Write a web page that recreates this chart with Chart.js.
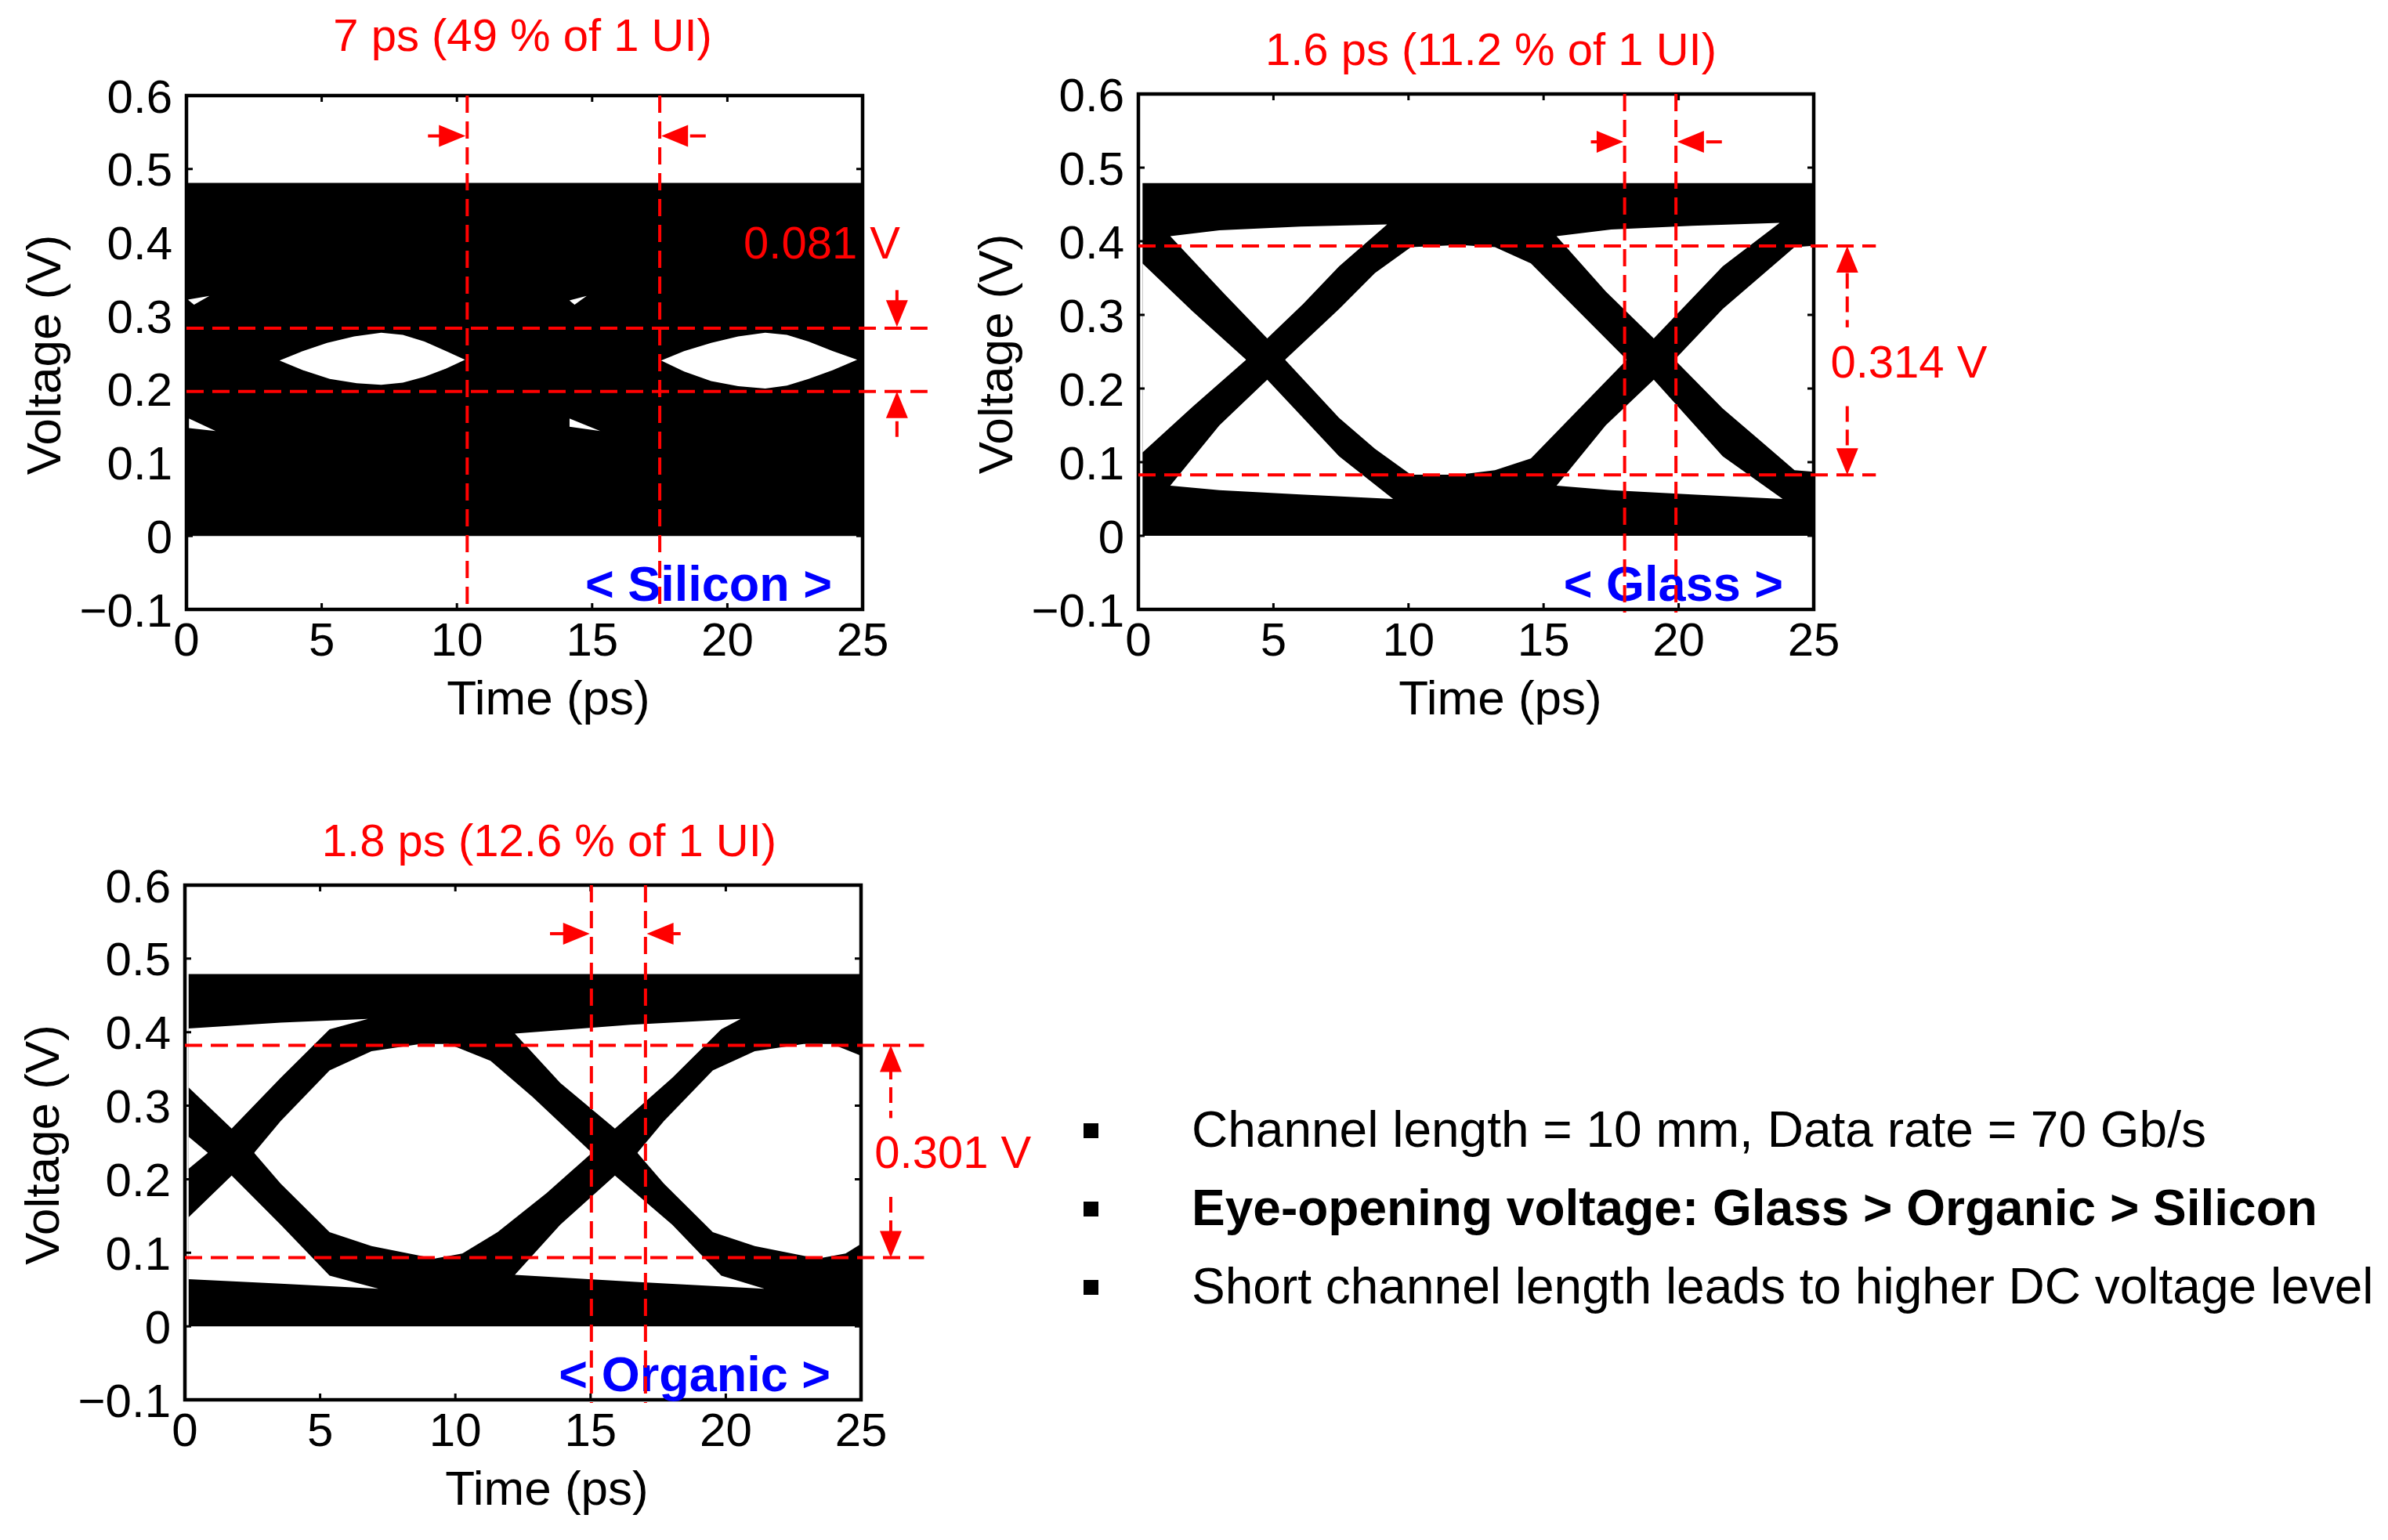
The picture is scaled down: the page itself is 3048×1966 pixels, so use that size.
<!DOCTYPE html>
<html><head><meta charset="utf-8">
<script src="https://cdn.jsdelivr.net/npm/chart.js@4.4.1/dist/chart.umd.min.js"></script>
<style>
html,body{margin:0;padding:0;background:#fff;width:3048px;height:1966px;overflow:hidden;position:relative}
canvas{position:absolute}
.note{position:absolute;font-family:"Liberation Sans",Arial,sans-serif;font-size:64px;line-height:64px;white-space:nowrap;color:#000}
.sq{position:absolute;width:19px;height:19px;background:#000}
</style></head>
<body>
<canvas id="cSi" width="1220" height="960" style="left:0px;top:0px"></canvas>
<canvas id="cGl" width="1400" height="960" style="left:1220px;top:0px"></canvas>
<canvas id="cOr" width="1400" height="966" style="left:0px;top:1000px"></canvas>
<script>
// ---------- tick labels ----------
const timeTickValues = [0, 5, 10, 15, 20, 25];
const timeTicks = ['0', '5', '10', '15', '20', '25'];
const voltTickValues = [-0.1, 0, 0.1, 0.2, 0.3, 0.4, 0.5, 0.6];
const voltTicks = ['\u22120.1', '0', '0.1', '0.2', '0.3', '0.4', '0.5', '0.6'];

// ---------- Silicon eye (time ps, voltage V) ----------
const siliconBand = [[0, 0.481], [25, 0.481]];
const siliconHoles = [
  {top: [[3.44,0.239],[4.3,0.252],[5.2,0.263],[6.2,0.272],[7.2,0.277],[8.0,0.274],[8.8,0.265],[9.6,0.252],[10.3,0.240]],
   bot: [[3.44,0.239],[4.3,0.226],[5.3,0.214],[6.3,0.208],[7.2,0.206],[8.0,0.209],[8.8,0.217],[9.6,0.228],[10.3,0.240]]},
  {top: [[17.55,0.239],[18.4,0.252],[19.4,0.263],[20.4,0.272],[21.4,0.277],[22.2,0.274],[23.0,0.265],[23.9,0.252],[24.8,0.240]],
   bot: [[17.55,0.239],[18.4,0.224],[19.4,0.211],[20.4,0.204],[21.4,0.201],[22.2,0.205],[23.0,0.214],[23.9,0.226],[24.8,0.240]]},
  {top: [[0.05,0.322],[0.85,0.327]], bot: [[0.05,0.322],[0.28,0.315],[0.85,0.327]]},
  {top: [[14.16,0.321],[14.8,0.327]], bot: [[14.16,0.321],[14.35,0.315],[14.8,0.327]]},
  {top: [[0.09,0.160],[1.08,0.143]], bot: [[0.09,0.147],[1.08,0.143]]},
  {top: [[14.16,0.160],[15.3,0.143]], bot: [[14.16,0.149],[15.3,0.143]]}
];
const siliconVLines = [10.38, 17.5];
const siliconHLines = [0.283, 0.197];
const siliconArrows = [[8.93,0.545,10.32,0.545],[19.2,0.545,17.56,0.545],[26.27,0.335,26.27,0.285],[26.27,0.135,26.27,0.197]];

// ---------- Glass eye ----------
const glassBand = [[0.15, 0.479], [25, 0.479]];
const glassHoles = [
  {top: [[1.18,0.407],[3.0,0.415],[6.0,0.420],[9.21,0.423]],
   bot: [[1.18,0.407],[3.2,0.328],[4.77,0.268],[6.1,0.315],[7.43,0.366],[9.21,0.423]]},
  {top: [[1.18,0.068],[3.0,0.150],[4.77,0.212],[7.43,0.108],[9.43,0.050]],
   bot: [[1.18,0.068],[3.0,0.062],[6.0,0.056],[9.43,0.050]]},
  {top: [[0.15,0.370],[2.0,0.305],[3.99,0.239]],
   bot: [[0.15,0.113],[2.0,0.175],[3.99,0.239]]},
  {top: [[5.43,0.239],[7.43,0.308],[8.76,0.357],[10.09,0.392],[11.87,0.395],[13.2,0.392],[14.53,0.370],[18.08,0.239]],
   bot: [[5.43,0.239],[7.43,0.160],[8.76,0.118],[10.09,0.083],[11.87,0.083],[13.2,0.089],[14.53,0.105],[18.08,0.239]]},
  {top: [[15.48,0.407],[17.5,0.416],[20.5,0.421],[23.74,0.425]],
   bot: [[15.48,0.407],[17.3,0.332],[19.08,0.268],[20.3,0.315],[21.63,0.366],[23.74,0.425]]},
  {top: [[15.48,0.068],[17.3,0.150],[19.08,0.212],[21.63,0.108],[23.85,0.050]],
   bot: [[15.48,0.068],[17.5,0.062],[20.5,0.056],[23.85,0.050]]},
  {top: [[19.85,0.239],[21.63,0.308],[22.96,0.350],[24.29,0.392],[25,0.394]],
   bot: [[19.85,0.239],[21.63,0.173],[22.96,0.131],[24.29,0.089],[25,0.087]]}
];
const glassVLines = [18.0, 19.9];
const glassHLines = [0.3935, 0.0826];
const glassArrows = [[16.75,0.535,17.95,0.535],[21.6,0.535,19.95,0.535],[26.24,0.24,26.24,0.3935],[26.24,0.24,26.24,0.0826]];

// ---------- Organic eye ----------
const organicBand = [[0.13, 0.479], [25, 0.479]];
const organicHoles = [
  {top: [[0.13,0.405],[3.54,0.413],[6.77,0.418]],
   bot: [[0.13,0.325],[1.73,0.269],[3.54,0.338],[5.35,0.404],[6.77,0.418]]},
  {top: [[0.13,0.148],[1.73,0.205],[3.54,0.138],[5.35,0.069],[7.16,0.051]],
   bot: [[0.13,0.064],[3.54,0.058],[7.16,0.051]]},
  {top: [[0.13,0.258],[0.85,0.236]], bot: [[0.13,0.214],[0.85,0.236]]},
  {top: [[2.56,0.236],[3.54,0.279],[5.35,0.348],[6.9,0.374],[8.71,0.384],[9.75,0.384],[11.3,0.361],[12.85,0.312],[15.05,0.236]],
   bot: [[2.56,0.236],[3.54,0.194],[5.35,0.128],[6.9,0.109],[9.23,0.092],[10.26,0.099],[11.56,0.128],[13.37,0.181],[15.05,0.236]]},
  {top: [[12.2,0.398],[16.47,0.410],[20.55,0.418]],
   bot: [[12.2,0.398],[13.88,0.331],[15.9,0.269],[18.02,0.338],[19.83,0.404],[20.55,0.418]]},
  {top: [[12.2,0.070],[13.88,0.138],[15.9,0.205],[18.02,0.138],[19.83,0.069],[21.43,0.051]],
   bot: [[12.2,0.070],[16.8,0.060],[21.43,0.051]]},
  {top: [[16.73,0.236],[17.71,0.279],[19.52,0.348],[21.07,0.374],[22.88,0.384],[23.92,0.384],[25,0.368]],
   bot: [[16.73,0.236],[17.71,0.194],[19.52,0.128],[21.07,0.109],[23.4,0.092],[24.43,0.099],[25,0.112]]}
];
const organicVLines = [15.03, 17.03];
const organicHLines = [0.382, 0.0935];
const organicArrows = [[13.5,0.534,14.97,0.534],[18.33,0.534,17.08,0.534],[26.1,0.24,26.1,0.382],[26.1,0.24,26.1,0.0935]];

// ---------- texts ----------
const titles = ['7 ps (49 % of 1 UI)', '1.6 ps (11.2 % of 1 UI)', '1.8 ps (12.6 % of 1 UI)'];
const valueTexts = ['0.081 V', '0.314 V', '0.301 V'];
const materialLabels = ['< Silicon >', '< Glass >', '< Organic >'];
const xTitle = 'Time (ps)';
const yTitle = 'Voltage (V)';
const notes = ['Channel length = 10 mm, Data rate = 70 Gb/s', 'Eye-opening voltage: Glass > Organic > Silicon', 'Short channel length leads to higher DC voltage level'];

// ---------- drawing ----------
const FONT = '"Liberation Sans", Arial, sans-serif';
const RED = '#ff0000';

function pts(a) { return a.map(p => ({x: p[0], y: p[1]})); }

function decoPlugin(d) {
  return {
    id: 'eyeDeco',
    afterDatasetsDraw(chart) {
      const {ctx, chartArea: a, scales: {x, y}} = chart;
      ctx.save();
      // inward ticks on all four sides
      ctx.strokeStyle = '#000'; ctx.lineWidth = 3; ctx.setLineDash([]);
      ctx.beginPath();
      timeTickValues.slice(1, -1).forEach(v => {
        const px = x.getPixelForValue(v);
        ctx.moveTo(px, a.bottom); ctx.lineTo(px, a.bottom - 8);
        ctx.moveTo(px, a.top); ctx.lineTo(px, a.top + 8);
      });
      voltTickValues.slice(1, -1).forEach(v => {
        const py = y.getPixelForValue(v);
        ctx.moveTo(a.left, py); ctx.lineTo(a.left + 8, py);
        ctx.moveTo(a.right, py); ctx.lineTo(a.right - 8, py);
      });
      ctx.stroke();
      // box
      ctx.lineWidth = 4.5;
      ctx.strokeRect(a.left, a.top, a.right - a.left, a.bottom - a.top);
      // axis titles
      ctx.fillStyle = '#000';
      ctx.font = '62px ' + FONT;
      ctx.textAlign = 'center'; ctx.textBaseline = 'alphabetic';
      ctx.fillText(xTitle, a.left + 462, a.bottom + 134);
      ctx.save();
      ctx.translate(a.left - 178, (a.top + a.bottom) / 2 + 3);
      ctx.rotate(-Math.PI / 2);
      ctx.textBaseline = 'middle';
      ctx.fillText(yTitle, 0, 0);
      ctx.restore();
      // material label
      ctx.fillStyle = '#0000ff';
      ctx.font = 'bold 63px ' + FONT;
      ctx.textAlign = 'right'; ctx.textBaseline = 'alphabetic';
      ctx.fillText(d.label, a.right - 39, a.bottom - 11);
      // red dashed guide lines
      ctx.strokeStyle = RED; ctx.lineWidth = 4; ctx.setLineDash([22, 11]);
      ctx.beginPath();
      d.vLines.forEach(v => {
        const px = x.getPixelForValue(v);
        ctx.moveTo(px, y.getPixelForValue(0.6)); ctx.lineTo(px, y.getPixelForValue(-0.1) + 4);
      });
      d.hLines.forEach(v => {
        const py = y.getPixelForValue(v);
        ctx.moveTo(x.getPixelForValue(0), py); ctx.lineTo(x.getPixelForValue(d.hEnd), py);
      });
      ctx.stroke();
      // arrows
      d.arrows.forEach(ar => {
        const x0 = x.getPixelForValue(ar[0]), y0 = y.getPixelForValue(ar[1]);
        const x1 = x.getPixelForValue(ar[2]), y1 = y.getPixelForValue(ar[3]);
        const L = Math.hypot(x1 - x0, y1 - y0), ux = (x1 - x0) / L, uy = (y1 - y0) / L;
        const hl = 34, hw = 14;
        const bx = x1 - ux * hl, by = y1 - uy * hl;
        ctx.setLineDash([20, 10]); ctx.lineWidth = 4; ctx.strokeStyle = RED;
        ctx.beginPath(); ctx.moveTo(x0, y0); ctx.lineTo(bx + ux * 2, by + uy * 2); ctx.stroke();
        ctx.setLineDash([]); ctx.fillStyle = RED;
        ctx.beginPath();
        ctx.moveTo(x1, y1);
        ctx.lineTo(bx - uy * hw, by + ux * hw);
        ctx.lineTo(bx + uy * hw, by - ux * hw);
        ctx.closePath(); ctx.fill();
      });
      // value text
      ctx.font = '58px ' + FONT;
      ctx.textAlign = 'left'; ctx.textBaseline = 'middle';
      const tx = x.getPixelForValue(d.valuePos[0]), ty = y.getPixelForValue(d.valuePos[1]);
      if (d.valueBg) {
        const w = ctx.measureText(d.value).width;
        ctx.fillStyle = '#fff';
        ctx.fillRect(tx - 4, ty - 48, w + 8, 96);
      }
      ctx.fillStyle = RED;
      ctx.fillText(d.value, tx, ty);
      // title
      ctx.textAlign = 'center'; ctx.textBaseline = 'alphabetic';
      ctx.fillText(d.title, x.getPixelForValue(d.titlePos[0]), y.getPixelForValue(d.titlePos[1]));
      ctx.restore();
    }
  };
}

function makeChart(id, band, holes, d, g) {
  const datasets = [];
  const base = {borderColor: 'rgba(0,0,0,0)', borderWidth: 0, pointRadius: 0, pointHoverRadius: 0, tension: 0};
  datasets.push(Object.assign({data: pts(band), fill: 'origin', backgroundColor: '#000', order: 10}, base));
  holes.forEach(h => {
    const ti = datasets.length;
    datasets.push(Object.assign({data: pts(h.top), fill: false, order: 5}, base));
    datasets.push(Object.assign({data: pts(h.bot), fill: ti, backgroundColor: '#fff', order: 5}, base));
  });
  new Chart(document.getElementById(id), {
    type: 'line',
    data: {datasets},
    options: {
      responsive: false, animation: false, events: [],
      layout: {padding: {left: 0, top: g.top, right: g.right, bottom: g.bottom}},
      plugins: {legend: {display: false}, tooltip: {enabled: false}, title: {display: false}},
      scales: {
        x: {
          type: 'linear', min: 0, max: 25,
          afterBuildTicks: s => { s.ticks = timeTickValues.map(v => ({value: v})); },
          afterFit: s => { s.height = 100; },
          ticks: {callback: (v, i) => timeTicks[i], font: {family: FONT, size: 60}, color: '#000', padding: 6, maxRotation: 0, autoSkip: false},
          grid: {display: false, drawTicks: false}, border: {display: false}
        },
        y: {
          type: 'linear', min: -0.1, max: 0.6,
          afterBuildTicks: s => { s.ticks = voltTickValues.map(v => ({value: v})); },
          afterFit: s => { s.width = g.wy; },
          ticks: {callback: (v, i) => voltTicks[i], font: {family: FONT, size: 60}, color: '#000', padding: 18, labelOffset: 5, autoSkip: false},
          grid: {display: false, drawTicks: false}, border: {display: false}
        }
      }
    },
    plugins: [decoPlugin(d)]
  });
}

makeChart('cSi', siliconBand, siliconHoles,
  {label: materialLabels[0], vLines: siliconVLines, hLines: siliconHLines, hEnd: 27.4, arrows: siliconArrows,
   value: valueTexts[0], valuePos: [20.6, 0.395], valueBg: false, title: titles[0], titlePos: [12.43, 0.661]},
  {wy: 238, top: 122, right: 119, bottom: 82});
makeChart('cGl', glassBand, glassHoles,
  {label: materialLabels[1], vLines: glassVLines, hLines: glassHLines, hEnd: 27.3, arrows: glassArrows,
   value: valueTexts[1], valuePos: [25.62, 0.232], valueBg: true, title: titles[1], titlePos: [13.05, 0.6395]},
  {wy: 233, top: 120, right: 305, bottom: 82});
makeChart('cOr', organicBand, organicHoles,
  {label: materialLabels[2], vLines: organicVLines, hLines: organicHLines, hEnd: 27.33, arrows: organicArrows,
   value: valueTexts[2], valuePos: [25.5, 0.232], valueBg: true, title: titles[2], titlePos: [13.47, 0.6395]},
  {wy: 236, top: 130, right: 301, bottom: 79});

// bullet notes
notes.forEach((t, i) => {
  const sq = document.createElement('div');
  sq.className = 'sq'; sq.style.left = '1383px'; sq.style.top = (1434 + i * 100) + 'px';
  document.body.appendChild(sq);
  const n = document.createElement('div');
  n.className = 'note'; n.textContent = t;
  n.style.left = '1521px'; n.style.top = (1410 + i * 100) + 'px';
  if (i === 1) n.style.fontWeight = 'bold';
  document.body.appendChild(n);
});
</script>
</body></html>
